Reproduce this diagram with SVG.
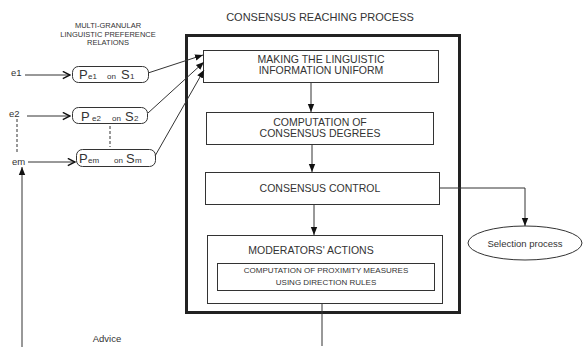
<svg xmlns="http://www.w3.org/2000/svg" width="585" height="347" viewBox="0 0 585 347">
<style>
text{font-family:"Liberation Sans",Arial,sans-serif;fill:#333}
.box{fill:#fff;stroke:#333;stroke-width:1}
.bt{font-size:10.5px;text-anchor:middle}
.lbl{font-size:9.5px}
.ln{stroke:#333;stroke-width:1;fill:none}
.big{font-size:13px}
.sm{font-size:8px}
</style>
<defs>
<marker id="fa" viewBox="0 0 10 10" refX="10" refY="5" markerWidth="8" markerHeight="8" markerUnits="userSpaceOnUse" orient="auto"><path d="M0,1 L10,5 L0,9 Z" fill="#111"/></marker>
<marker id="oa" viewBox="0 0 10 10" refX="9" refY="5" markerWidth="9" markerHeight="9" markerUnits="userSpaceOnUse" orient="auto"><path d="M1,1 L9,5 L1,9" fill="none" stroke="#111" stroke-width="1.6"/></marker>
</defs>
<rect width="585" height="347" fill="#fff"/>
<text x="320" y="21" font-size="11" text-anchor="middle">CONSENSUS REACHING PROCESS</text>
<text x="108" y="28" font-size="7.5" text-anchor="middle">MULTI-GRANULAR</text>
<text x="108" y="36.5" font-size="7.5" text-anchor="middle">LINGUISTIC PREFERENCE</text>
<text x="108" y="45" font-size="7.5" text-anchor="middle">RELATIONS</text>
<g id="outer"><rect x="186.5" y="35.5" width="273" height="277" fill="none" stroke="#222" stroke-width="3"/></g>
<g id="n-uniform"><rect class="box" x="203.5" y="50.5" width="235" height="32"/><text class="bt" x="321" y="63">MAKING THE LINGUISTIC</text><text class="bt" x="321" y="74">INFORMATION UNIFORM</text></g>
<g id="n-degrees"><rect class="box" x="206.5" y="112.5" width="227" height="32"/><text class="bt" x="320" y="126">COMPUTATION OF</text><text class="bt" x="320" y="137">CONSENSUS DEGREES</text></g>
<g id="n-control"><rect class="box" x="205.5" y="172.5" width="234" height="32"/><text class="bt" x="320" y="192">CONSENSUS CONTROL</text></g>
<g id="n-moderators"><rect class="box" x="207.5" y="235.5" width="235" height="68"/><text class="bt" x="311" y="254">MODERATORS' ACTIONS</text><rect class="box" x="217.5" y="263.5" width="217" height="27"/><text x="326" y="272.5" font-size="8" text-anchor="middle">COMPUTATION OF PROXIMITY  MEASURES</text><text x="326" y="285" font-size="8" text-anchor="middle">USING DIRECTION RULES</text></g>
<g id="n-selection"><ellipse cx="525" cy="243" rx="57" ry="17" fill="#fff" stroke="#333"/><text x="525" y="246.5" font-size="9.5" text-anchor="middle">Selection process</text></g>
<g id="n-pe1"><rect class="box" x="72.5" y="66.5" width="76" height="16" rx="6"/><text y="79"><tspan x="79" class="big">P</tspan><tspan x="88" class="sm">e1</tspan><tspan x="107" class="sm">on</tspan><tspan x="121" class="big">S</tspan><tspan x="130" class="sm">1</tspan></text></g>
<g id="n-pe2"><rect class="box" x="72.5" y="107.5" width="75" height="16" rx="6"/><text y="120.5"><tspan x="81" class="big">P</tspan><tspan x="92" class="sm">e2</tspan><tspan x="112" class="sm">on</tspan><tspan x="125" class="big">S</tspan><tspan x="134" class="sm" font-size="9">2</tspan></text></g>
<g id="n-pem"><rect class="box" x="76.5" y="149.5" width="79" height="17" rx="6"/><text y="163"><tspan x="79" class="big">P</tspan><tspan x="88" class="sm">em</tspan><tspan x="114" class="sm">on</tspan><tspan x="126" class="big">S</tspan><tspan x="135" class="sm">m</tspan></text></g>
<g id="n-e1"><text class="lbl" x="11" y="76">e1</text></g>
<g id="n-e2"><text class="lbl" x="9" y="117">e2</text></g>
<g id="n-em"><text class="lbl" x="12" y="165">em</text></g>
<g id="n-advice"><text class="lbl" x="107" y="342" text-anchor="middle">Advice</text></g>
<g id="connectors">
<line class="ln" x1="25" y1="75" x2="70" y2="75" marker-end="url(#oa)"/>
<line class="ln" x1="27" y1="116" x2="70" y2="116" marker-end="url(#oa)"/>
<line class="ln" x1="28" y1="162" x2="75" y2="162" marker-end="url(#oa)"/>
<line class="ln" x1="17" y1="119" x2="17" y2="153" stroke-dasharray="3,2"/>
<line class="ln" x1="110" y1="126" x2="110" y2="147" stroke-dasharray="3,2"/>
<line class="ln" x1="22" y1="347" x2="22" y2="167" marker-end="url(#fa)"/>
<line class="ln" x1="148" y1="73" x2="203" y2="55" marker-end="url(#fa)"/>
<line class="ln" x1="148" y1="113" x2="204" y2="62" marker-end="url(#fa)"/>
<line class="ln" x1="155" y1="156" x2="204" y2="70" marker-end="url(#fa)"/>
<line class="ln" x1="311" y1="83" x2="311" y2="112" marker-end="url(#fa)"/>
<line class="ln" x1="312" y1="145" x2="312" y2="172" marker-end="url(#fa)"/>
<line class="ln" x1="314" y1="205" x2="314" y2="235" marker-end="url(#fa)"/>
<polyline class="ln" points="440,188 525,188 525,226" marker-end="url(#fa)"/>
<line class="ln" x1="322" y1="304" x2="322" y2="346"/>
</g>
</svg>
